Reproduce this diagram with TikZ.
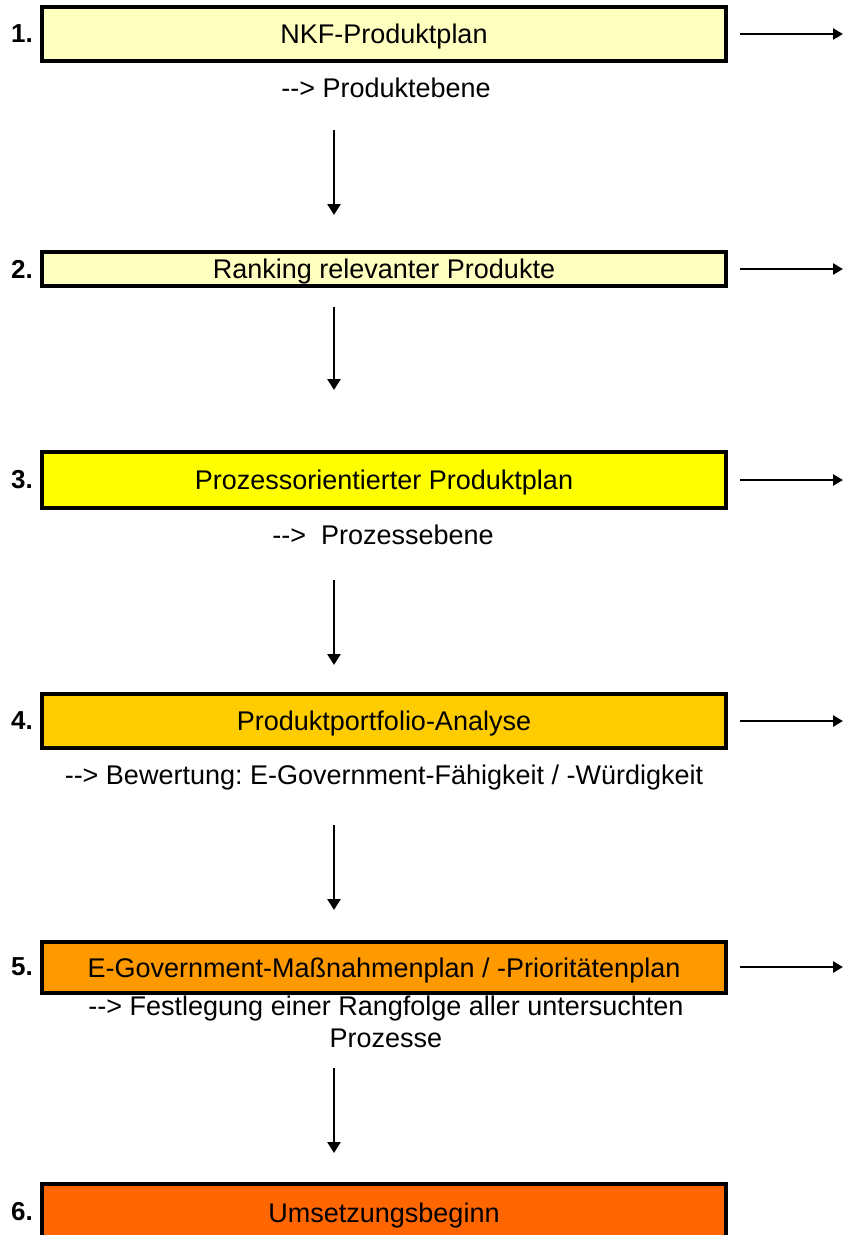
\documentclass[tikz,border=0pt]{standalone}
\usepackage{fontspec}
\setmainfont{Liberation Sans}
\usetikzlibrary{arrows.meta}
\definecolor{c1}{HTML}{FFFFC0}
\definecolor{c3}{HTML}{FFFF00}
\definecolor{c4}{HTML}{FFCC00}
\definecolor{c5}{HTML}{FF9900}
\definecolor{c6}{HTML}{FF6600}
\frenchspacing
\tikzset{
  stepbox/.style={draw=black, line width=4.5pt, minimum width=684pt, inner sep=0pt,
    text height=19.5pt, text depth=0pt, font=\fontsize{27}{30}\selectfont},
  num/.style={font=\bfseries\fontsize{26}{30}\selectfont, anchor=center},
  lbl/.style={font=\fontsize{27}{32}\selectfont, align=center},
  down/.style={line width=2.6pt, -{Triangle[width=13pt,length=11pt]}},
  side/.style={line width=2.6pt, -{Triangle[width=11pt,length=10pt]}}
}
\begin{document}
\begin{tikzpicture}[x=1pt,y=-1pt]
\useasboundingbox (0,0) rectangle (843,1235);
% boxes
\node[stepbox, fill=c1, minimum height=54pt] (b1) at (384,34) {NKF-Produktplan};
\node[stepbox, fill=c1, minimum height=34pt] (b2) at (384,269) {Ranking relevanter Produkte};
\node[stepbox, fill=c3, minimum height=56pt] (b3) at (384,480) {Prozessorientierter Produktplan};
\node[stepbox, fill=c4, minimum height=54pt] (b4) at (384,721) {Produktportfolio-Analyse};
\node[stepbox, fill=c5, minimum height=51pt] (b5) at (384,967.5) {E-Government-Maßnahmenplan / -Prioritätenplan};
\node[stepbox, fill=c6, minimum height=80pt] (b6) at (384,1224) {};
\node[font=\fontsize{27}{30}\selectfont, text height=19.5pt, text depth=0pt, inner sep=0pt] (t6) at (384,1213) {Umsetzungsbeginn};
% numbers
\node[num] (n1) at (22,34) {1.};
\node[num] (n2) at (22,269) {2.};
\node[num] (n3) at (22,480) {3.};
\node[num] (n4) at (22,721) {4.};
\node[num] (n5) at (22,967) {5.};
\node[num] (n6) at (22,1212) {6.};
% labels
\node[lbl] (l1) at (386,88) {{-}{-}> Produktebene};
\node[lbl] (l3) at (383,535) {{-}{-}>~ Prozessebene};
\node[lbl] (l4) at (384,778) {{-}{-}> Bewertung: E-Government-Fähigkeit / -Würdigkeit};
\node[lbl] (l5) at (386,1022) {{-}{-}> Festlegung einer Rangfolge aller untersuchten\\Prozesse};
% down arrows
\coordinate (d1a) at (334,130); \coordinate (d1b) at (334,215);
\coordinate (d2a) at (334,307); \coordinate (d2b) at (334,390);
\coordinate (d3a) at (334,580); \coordinate (d3b) at (334,665);
\coordinate (d4a) at (334,825); \coordinate (d4b) at (334,910);
\coordinate (d5a) at (334,1068); \coordinate (d5b) at (334,1153);
\draw[down] (d1a) -- (d1b);
\draw[down] (d2a) -- (d2b);
\draw[down] (d3a) -- (d3b);
\draw[down] (d4a) -- (d4b);
\draw[down] (d5a) -- (d5b);
% side arrows
\foreach \n/\y in {1/34,2/269,3/480,4/721,5/967}{
  \coordinate (s\n a) at (740,\y); \coordinate (s\n b) at (843,\y);
  \draw[side] (s\n a) -- (s\n b);
}
\end{tikzpicture}
\end{document}
